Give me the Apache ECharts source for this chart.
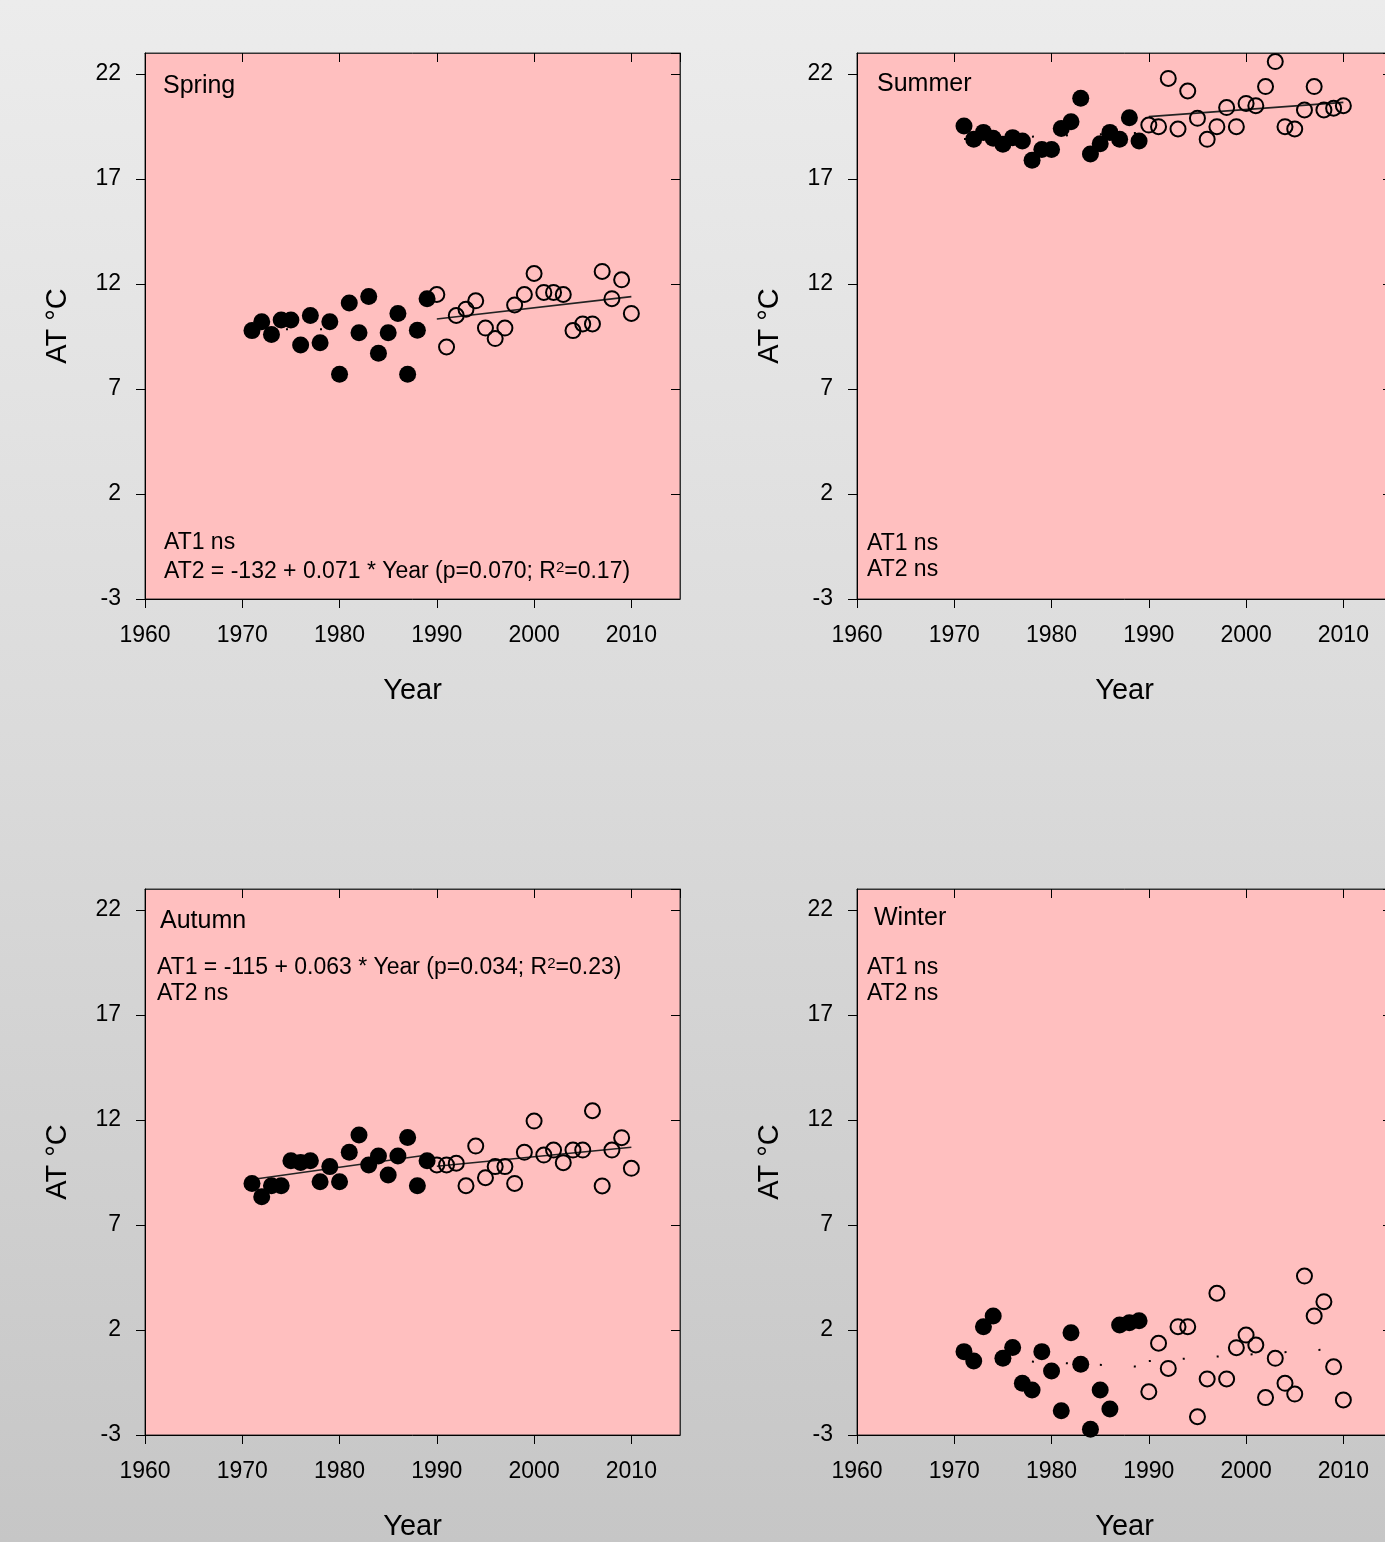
<!DOCTYPE html>
<html>
<head>
<meta charset="utf-8">
<script src="https://cdn.jsdelivr.net/npm/echarts@6/dist/echarts.min.js"></script>
<style>
html,body{margin:0;padding:0;overflow:hidden;width:1385px;height:1542px;}
#chart{width:1400px;height:1542px;background:linear-gradient(180deg,#ececec 0%,#dadada 50%,#c6c6c6 100%);}
</style>
</head>
<body>
<div id="chart"></div>
<script>
// ---- Data ----
const xTicks = [1960, 1970, 1980, 1990, 2000, 2010];
const yTicks = [-3, 2, 7, 12, 17, 22];
const yearsAT1 = [1971,1972,1973,1974,1975,1976,1977,1978,1979,1980,1981,1982,1983,1984,1985,1986,1987,1988,1989];
const yearsAT2 = [1990,1991,1992,1993,1994,1995,1996,1997,1998,1999,2000,2001,2002,2003,2004,2005,2006,2007,2008,2009,2010];

const springAT1 = [9.78,10.2,9.6,10.29,10.29,9.1,10.5,9.2,10.2,7.7,11.1,9.68,11.4,8.7,9.68,10.6,7.7,9.8,11.3];
const springAT2 = [11.5,9.0,10.5,10.8,11.2,9.9,9.4,9.9,11.0,11.5,12.5,11.6,11.6,11.5,9.78,10.1,10.1,12.6,11.3,12.2,10.6];
const summerAT1 = [19.52,18.89,19.22,18.94,18.65,18.97,18.81,17.89,18.41,18.41,19.41,19.73,20.84,18.19,18.68,19.22,18.89,19.92,18.81];
const summerAT2 = [19.57,19.49,21.79,19.38,21.19,19.89,18.89,19.49,20.4,19.49,20.6,20.49,21.4,22.59,19.49,19.38,20.29,21.4,20.29,20.37,20.49];
const autumnAT1 = [8.98,8.35,8.87,8.87,10.06,9.98,10.06,9.06,9.78,9.06,10.46,11.29,9.86,10.29,9.38,10.29,11.17,8.87,10.06];
const autumnAT2 = [9.86,9.86,9.94,8.87,10.76,9.25,9.78,9.78,8.98,10.46,11.95,10.33,10.57,9.97,10.57,10.57,12.44,8.86,10.57,11.16,9.7];
const winterAT1 = [0.97,0.52,2.16,2.67,0.65,1.17,-0.54,-0.86,0.97,0.05,-1.84,1.87,0.37,-2.73,-0.86,-1.76,2.24,2.35,2.44];
const winterAT2 = [-0.94,1.37,0.17,2.16,2.16,-2.13,-0.33,3.75,-0.33,1.16,1.76,1.29,-1.22,0.65,-0.54,-1.05,4.57,2.67,3.35,0.25,-1.33];

// trend lines: [startYear, startValue, endYear, endValue]
const springTrend1 = [1971, 9.85, 1989, 9.85];
const springTrend2 = [1990, 10.33, 2010, 11.4];
const summerTrend1 = [1971, 18.9, 1989, 19.2];
const summerTrend2 = [1990, 19.97, 2010, 20.65];
const autumnTrend1 = [1971, 9.17, 1989, 10.33];
const autumnTrend2 = [1990, 9.8, 2010, 10.7];
const winterTrend1 = [1971, 0.65, 1989, 0.25];
const winterTrend2 = [1990, 0.52, 2010, 1.13];

const seasonNames = ['Spring', 'Summer', 'Autumn', 'Winter'];
const annot1 = ['AT1 ns', 'AT1 ns', 'AT1 = -115 + 0.063 * Year (p=0.034; R{sup|2}=0.23)', 'AT1 ns'];
const annot2 = ['AT2 = -132 + 0.071 * Year (p=0.070; R{sup|2}=0.17)', 'AT2 ns', 'AT2 ns', 'AT2 ns'];

// ---- Layout ----
const FONT = '"Liberation Sans", Arial, Helvetica, sans-serif';
const grids = [
  {left:145, top:53, width:535, height:546},
  {left:857, top:53, width:535, height:546},
  {left:145, top:889, width:535, height:546},
  {left:857, top:889, width:535, height:546}
];
const panels = [
  {a1:springAT1, a2:springAT2, t1:springTrend1, t2:springTrend2, d1:true,  d2:false},
  {a1:summerAT1, a2:summerAT2, t1:summerTrend1, t2:summerTrend2, d1:true,  d2:false},
  {a1:autumnAT1, a2:autumnAT2, t1:autumnTrend1, t2:autumnTrend2, d1:false, d2:false},
  {a1:winterAT1, a2:winterAT2, t1:winterTrend1, t2:winterTrend2, d1:true,  d2:true}
];
// text positions (px)
const titlePos = [[163,86],[877,84],[160,921],[874,918]];
const ann1Pos = [[164,543],[867,544],[157,968],[867,968]];
const ann2Pos = [[164,572],[867,570],[157,994],[867,994]];

const xAxes = [], yAxes = [], series = [], graphics = [];
const tickLen = 9;
const richSup = {sup:{fontFamily:FONT, fontSize:15, verticalAlign:'top', fill:'#000'}};

grids.forEach((g, i) => {
  const gi = i;
  xAxes.push({
    type:'value', gridIndex:gi, position:'bottom', min:1960, max:2015, interval:10,
    name:'Year', nameLocation:'middle', nameGap:77,
    nameTextStyle:{fontFamily:FONT, fontSize:29, color:'#000'},
    axisLine:{show:true, onZero:false, lineStyle:{color:'#000', width:1}},
    axisTick:{show:true, inside:false, length:tickLen, lineStyle:{color:'#000'}},
    axisLabel:{show:true, fontFamily:FONT, fontSize:23, color:'#000', margin:25,
      formatter: v => String(v)},
    splitLine:{show:false}
  });
  xAxes.push({
    type:'value', gridIndex:gi, position:'top', min:1960, max:2015, interval:10,
    axisLine:{show:true, onZero:false, lineStyle:{color:'#333', width:1}},
    axisTick:{show:true, inside:true, length:tickLen, lineStyle:{color:'#000'}},
    axisLabel:{show:false}, splitLine:{show:false}
  });
  yAxes.push({
    type:'value', gridIndex:gi, position:'left', min:-3, max:23, interval:5,
    name:'AT °C', nameLocation:'middle', nameGap:73,
    nameTextStyle:{fontFamily:FONT, fontSize:29, color:'#000'},
    axisLine:{show:true, onZero:false, lineStyle:{color:'#000', width:1}},
    axisTick:{show:true, inside:false, length:tickLen, lineStyle:{color:'#000'}},
    axisLabel:{show:true, fontFamily:FONT, fontSize:23, color:'#000', margin:24,
      formatter: v => String(v)},
    splitLine:{show:false}
  });
  yAxes.push({
    type:'value', gridIndex:gi, position:'right', min:-3, max:23, interval:5,
    axisLine:{show:true, onZero:false, lineStyle:{color:'#333', width:1}},
    axisTick:{show:true, inside:true, length:tickLen, lineStyle:{color:'#000'}},
    axisLabel:{show:false}, splitLine:{show:false}
  });

  const p = panels[i];
  const xi = gi*2, yi = gi*2;
  const lineStyleFor = (dotted) => dotted
    ? {color:'#000', width:2, type:[2, 32]}
    : {color:'#222', width:1.6, type:'solid'};
  [[p.t1, p.d1], [p.t2, p.d2]].forEach(([t, dotted]) => {
    series.push({
      type:'line', xAxisIndex:xi, yAxisIndex:yi, z:2,
      data:[[t[0], t[1]], [t[2], t[3]]],
      symbol:'none', lineStyle:lineStyleFor(dotted), silent:true, animation:false
    });
  });
  series.push({
    type:'scatter', xAxisIndex:xi, yAxisIndex:yi, z:3,
    data: yearsAT1.map((y, k) => [y, p.a1[k]]),
    symbol:'circle', symbolSize:17,
    itemStyle:{color:'#000', opacity:1}, animation:false
  });
  series.push({
    type:'scatter', xAxisIndex:xi, yAxisIndex:yi, z:3,
    data: yearsAT2.map((y, k) => [y, p.a2[k]]),
    symbol:'circle', symbolSize:15,
    itemStyle:{color:'rgba(0,0,0,0)', borderColor:'#000', borderWidth:2, opacity:1}, animation:false
  });

  graphics.push({type:'text', x:titlePos[i][0], y:titlePos[i][1], z:10,
    style:{text:seasonNames[i], font:'25px ' + FONT, fill:'#000', verticalAlign:'middle'}});
  graphics.push({type:'text', x:ann1Pos[i][0], y:ann1Pos[i][1], z:10,
    style:{text:annot1[i], font:'23px ' + FONT, fontSize:23, fontFamily:FONT, fill:'#000', verticalAlign:'middle', rich:richSup}});
  graphics.push({type:'text', x:ann2Pos[i][0], y:ann2Pos[i][1], z:10,
    style:{text:annot2[i], font:'23px ' + FONT, fontSize:23, fontFamily:FONT, fill:'#000', verticalAlign:'middle', rich:richSup}});
});

const chart = echarts.init(document.getElementById('chart'), null, {renderer:'canvas'});
chart.setOption({
  backgroundColor:'transparent',
  animation:false,
  grid: grids.map(g => Object.assign({show:true, backgroundColor:'#ffbfbf', borderColor:'#333', borderWidth:1, containLabel:false}, g)),
  xAxis: xAxes,
  yAxis: yAxes,
  series: series,
  graphic: graphics
});
</script>
</body>
</html>
